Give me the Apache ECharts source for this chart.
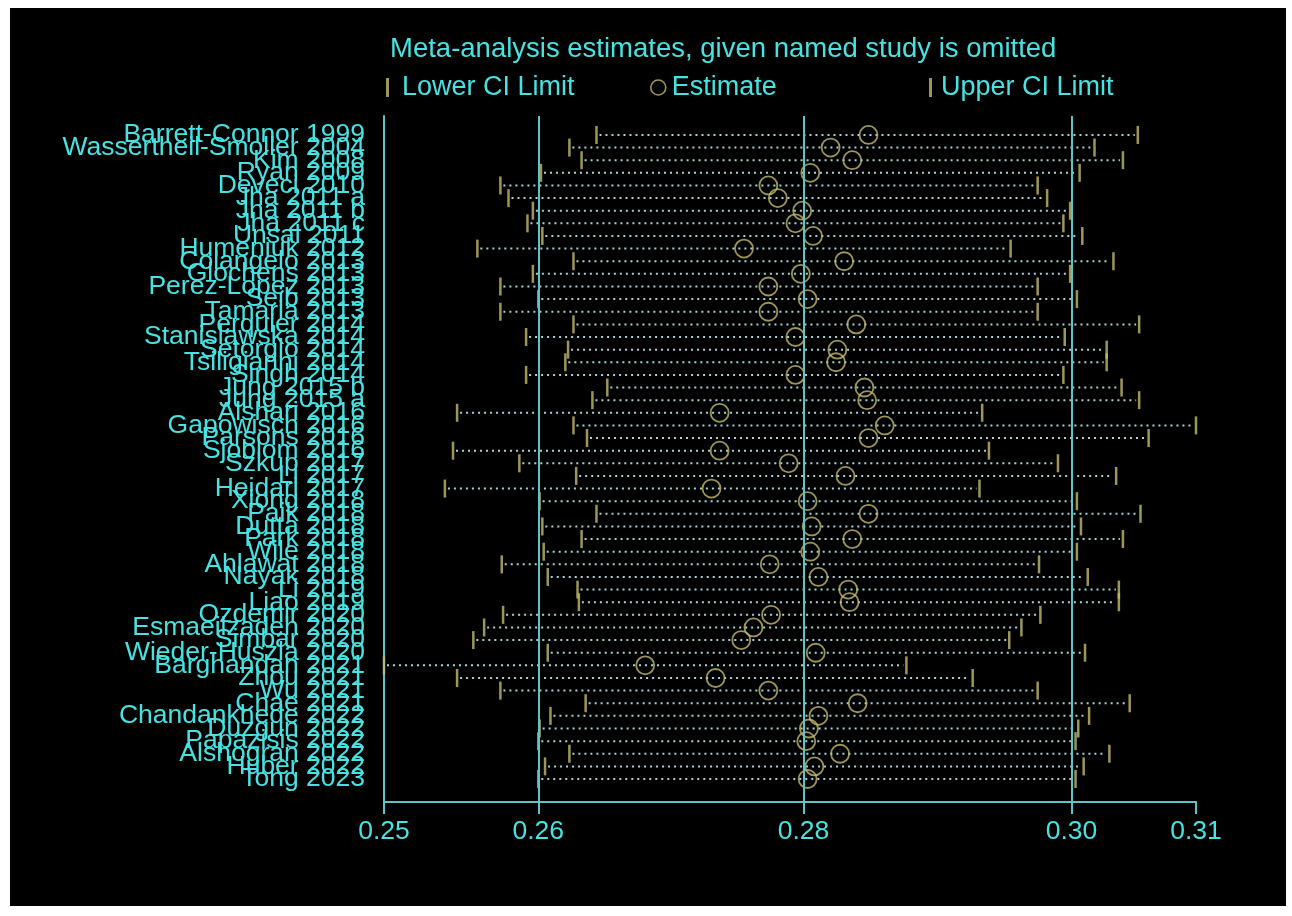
<!DOCTYPE html>
<html>
<head>
<meta charset="utf-8">
<script src="https://cdn.jsdelivr.net/npm/echarts@6/dist/echarts.min.js"></script>
<style>
  html, body { margin: 0; padding: 0; background: #fff; }
  #chart { position: absolute; left: 10px; top: 8px; width: 1276px; height: 898px; background: #000; }
</style>
</head>
<body>
<div id="chart"></div>
<script>
// studies in plot order (top to bottom)
const studies = [
  'Barrett-Connor 1999', 'Wassertheil-Smoller 2004', 'Kim 2008', 'Ryan 2009', 'Deveci 2010',
  'Jha 2011 a', 'Jha 2011 b', 'Jha 2011 c', 'Unsal 2011', 'Humeniuk 2012',
  'Colangelo 2013', 'Glochens 2013', 'Perez-Lopez 2013', 'Seib 2013', 'Tamaria 2013',
  'Perquier 2014', 'Stanislawska 2014', 'Setorglo 2014', 'Tsiligianni 2014', 'Singh 2014',
  'Jung 2015 b', 'Jung 2015 a', 'Alshari 2016', 'Gapowisch 2016', 'Parsons 2016',
  'Sjoblom 2016', 'Szkup 2017', 'Li 2017', 'Heidari 2017', 'Xiong 2018',
  'Paik 2018', 'Dutta 2018', 'Park 2018', 'Wile 2018', 'Ahlawat 2018',
  'Nayak 2018', 'Li 2019', 'Liao 2019', 'Ozdemir 2020', 'Esmaeilzadeh 2020',
  'Simbar 2020', 'Wieder-Huszla 2020', 'Barghandan 2021', 'Zhou 2021', 'Wu 2021',
  'Chae 2021', 'Chandankhede 2022', 'Duzgun 2022', 'Papazisis 2022', 'Alshogran 2022',
  'Huber 2022', 'Tong 2023'
];

const lowerCI = [
  0.2657, 0.2637, 0.2646, 0.2616, 0.2586, 0.2592, 0.2610, 0.2606, 0.2617, 0.2569,
  0.2640, 0.2610, 0.2586, 0.2614, 0.2586, 0.2640, 0.2605, 0.2636, 0.2634, 0.2605,
  0.2665, 0.2654, 0.2554, 0.2640, 0.2650, 0.2551, 0.2600, 0.2642, 0.2545, 0.2615,
  0.2657, 0.2617, 0.2646, 0.2618, 0.2587, 0.2621, 0.2643, 0.2644, 0.2588, 0.2574,
  0.2566, 0.2621, 0.2500, 0.2554, 0.2586, 0.2649, 0.2623, 0.2615, 0.2614, 0.2637,
  0.2619, 0.2614
];

const estimate = [
  0.2858, 0.2830, 0.2846, 0.2815, 0.2784, 0.2791, 0.2809, 0.2804, 0.2817, 0.2766,
  0.2840, 0.2808, 0.2784, 0.2813, 0.2784, 0.2849, 0.2804, 0.2835, 0.2834, 0.2804,
  0.2855, 0.2857, 0.2748, 0.2870, 0.2858, 0.2748, 0.2799, 0.2841, 0.2742, 0.2813,
  0.2858, 0.2816, 0.2846, 0.2815, 0.2785, 0.2821, 0.2843, 0.2844, 0.2786, 0.2773,
  0.2764, 0.2819, 0.2693, 0.2745, 0.2784, 0.2850, 0.2821, 0.2814, 0.2812, 0.2837,
  0.2818, 0.2813
];

const upperCI = [
  0.3057, 0.3025, 0.3046, 0.3014, 0.2983, 0.2990, 0.3007, 0.3002, 0.3016, 0.2963,
  0.3039, 0.3007, 0.2983, 0.3012, 0.2983, 0.3058, 0.3003, 0.3034, 0.3034, 0.3002,
  0.3045, 0.3058, 0.2942, 0.3100, 0.3065, 0.2947, 0.2998, 0.3041, 0.2940, 0.3012,
  0.3059, 0.3015, 0.3046, 0.3012, 0.2984, 0.3020, 0.3043, 0.3043, 0.2985, 0.2971,
  0.2962, 0.3018, 0.2886, 0.2935, 0.2983, 0.3051, 0.3021, 0.3013, 0.3011, 0.3036,
  0.3017, 0.3011
];

// overall estimate with its CI (vertical reference lines)
const overall = [0.2614, 0.2810, 0.3008];

// x axis ticks and their printed labels
const xTickValues = [0.25, 0.2614, 0.2810, 0.3008, 0.31];
const xTickLabels = ['0.25', '0.26', '0.28', '0.30', '0.31'];

const cyan = '#5cc6c6';
const textCyan = '#48e2e2';
const khaki = '#c4bc6c';
const font = "'Liberation Sans', Arial, sans-serif";

// y runs over row numbers, with some room above the first and below the last
const yMin = -0.5;
const yMax = 53.82;
const rows = studies.map((s, i) => i + 1);

const chart = echarts.init(document.getElementById('chart'));

const option = {
  backgroundColor: '#000',
  animation: false,
  title: {
    text: 'Meta-analysis estimates, given named study is omitted',
    left: 375,
    top: 22,
    textStyle: { color: textCyan, fontSize: 27.5, fontWeight: 'normal', fontFamily: font }
  },
  legend: [
    {
      data: ['Lower CI Limit'],
      left: 371, top: 61,
      itemWidth: 3, itemHeight: 19,
      textStyle: { color: textCyan, fontSize: 27, fontFamily: font, padding: [0, 0, 0, 8] }
    },
    {
      data: [{ name: 'Estimate', icon: 'circle',
               itemStyle: { color: 'transparent', borderColor: khaki, borderWidth: 1.6 } }],
      left: 635, top: 61,
      itemWidth: 15, itemHeight: 15,
      textStyle: { color: textCyan, fontSize: 27, fontFamily: font, padding: [0, 0, 0, 1] }
    },
    {
      data: ['Upper CI Limit'],
      left: 914, top: 61,
      itemWidth: 3, itemHeight: 19,
      textStyle: { color: textCyan, fontSize: 27, fontFamily: font, padding: [0, 0, 0, 4] }
    }
  ],
  grid: { left: 374, right: 90, top: 108, bottom: 104 },
  xAxis: {
    type: 'value',
    position: 'bottom',
    min: 0.25,
    max: 0.31,
    axisLine: { show: true, onZero: false, lineStyle: { color: cyan, width: 2 } },
    axisTick: { show: true, length: 12, customValues: xTickValues,
                lineStyle: { color: cyan, width: 2 } },
    axisLabel: {
      customValues: xTickValues,
      formatter: v => xTickLabels[xTickValues.indexOf(v)],
      color: textCyan, fontSize: 26.5, fontFamily: font, margin: 16
    },
    splitLine: { show: false }
  },
  yAxis: {
    type: 'value',
    inverse: true,
    min: yMin,
    max: yMax,
    axisLine: { show: true, onZero: false, lineStyle: { color: cyan, width: 2 } },
    axisTick: { show: false },
    axisLabel: {
      customValues: [yMin].concat(rows, [yMax]),
      formatter: v => studies[v - 1] || '',
      color: textCyan, fontSize: 26.5, fontFamily: font, margin: 19
    },
    splitLine: { show: false }
  },
  series: [
    {
      name: 'range',
      type: 'custom',
      encode: { x: [0, 1], y: 2 },
      data: studies.map((s, i) => [lowerCI[i], upperCI[i], i + 1]),
      renderItem: function (params, api) {
        const a = api.coord([api.value(0), api.value(2)]);
        const b = api.coord([api.value(1), api.value(2)]);
        return {
          type: 'line',
          shape: { x1: a[0] + 3, y1: a[1], x2: b[0] - 3, y2: b[1] },
          style: { stroke: '#a4d4d4', lineWidth: 2, lineDash: [2, 4] }
        };
      },
      markLine: {
        silent: true,
        symbol: 'none',
        precision: 4,
        label: { show: false },
        lineStyle: { color: cyan, width: 2, type: 'solid' },
        data: overall.map(v => ({ xAxis: v }))
      },
      z: 1
    },
    {
      name: 'Lower CI Limit',
      type: 'scatter',
      symbol: 'rect',
      symbolSize: [2.5, 18],
      itemStyle: { color: khaki },
      data: studies.map((s, i) => [lowerCI[i], i + 1]),
      z: 3
    },
    {
      name: 'Upper CI Limit',
      type: 'scatter',
      symbol: 'rect',
      symbolSize: [2.5, 18],
      itemStyle: { color: khaki },
      data: studies.map((s, i) => [upperCI[i], i + 1]),
      z: 3
    },
    {
      name: 'Estimate',
      type: 'scatter',
      symbol: 'circle',
      symbolSize: 18,
      itemStyle: { color: 'transparent', borderColor: khaki, borderWidth: 1.8 },
      data: studies.map((s, i) => [estimate[i], i + 1]),
      z: 4
    }
  ]
};

chart.setOption(option);
</script>
</body>
</html>
